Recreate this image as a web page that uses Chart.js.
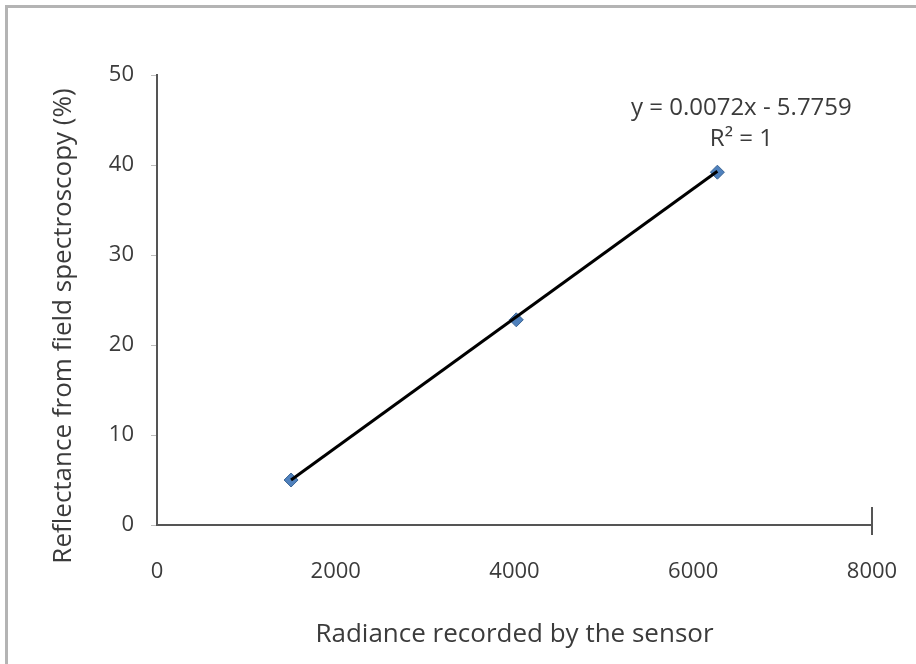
<!DOCTYPE html>
<html>
<head>
<meta charset="utf-8">
<script src="https://cdn.jsdelivr.net/npm/chart.js@4"></script>
<style>
    html, body { margin: 0; padding: 0; overflow: hidden; background: #fff; }
    #chart { display: block; }
</style>
</head>
<body>
<canvas id="chart" width="916" height="664"></canvas>
<script>
// measured points
const radiance = [1500, 4020, 6270];
const reflectance = [5.0, 22.8, 39.2];

// trend line end points as seen on the picture
const trendX = [1500, 6270];
const trendY = [5.0, 39.3];

const xTicks = [0, 2000, 4000, 6000, 8000];
const yTicks = [0, 10, 20, 30, 40, 50];

const xTitle = 'Radiance recorded by the sensor';
const yTitle = 'Reflectance from field spectroscopy (%)';
const equationLines = ['y = 0.0072x - 5.7759', 'R\u00B2 = 1'];

const textColor = '#3b3b3b';
const axisColor = '#555';
const fontName = '"Open Sans", sans-serif';

// grey frame on top and left side of the picture
const frame = {
    id: 'frame',
    beforeDraw(chart) {
        const ctx = chart.ctx;
        ctx.save();
        ctx.strokeStyle = '#b4b4b4';
        ctx.lineWidth = 3;
        ctx.beginPath();
        ctx.moveTo(6.5, chart.height);
        ctx.lineTo(6.5, 6.5);
        ctx.lineTo(chart.width, 6.5);
        ctx.stroke();
        ctx.restore();
    }
};

const extraText = {
    id: 'extraText',
    afterDatasetsDraw(chart) {
        const ctx = chart.ctx;
        const xs = chart.scales.x;

        // end tick of the x axis crosses the axis line
        const endX = Math.round(xs.getPixelForValue(xTicks[xTicks.length - 1]));
        ctx.save();
        ctx.strokeStyle = axisColor;
        ctx.lineWidth = 2;
        ctx.beginPath();
        ctx.moveTo(endX, xs.top - 18);
        ctx.lineTo(endX, xs.top + 10);
        ctx.stroke();

        const x = xs.getPixelForValue(radiance[radiance.length - 1]) + 24;
        const y = chart.scales.y.getPixelForValue(reflectance[reflectance.length - 1]);
        ctx.fillStyle = textColor;
        ctx.font = '24px ' + fontName;
        ctx.textAlign = 'center';
        ctx.textBaseline = 'middle';
        ctx.fillText(equationLines[0], x, y - 64);
        ctx.fillText(equationLines[1], x, y - 33);

        // y axis title, centred a bit lower than the axis
        ctx.translate(64, 326);
        ctx.rotate(-Math.PI / 2);
        ctx.font = '26px ' + fontName;
        ctx.fillText(yTitle, 0, 0);
        ctx.restore();
    }
};

const ctx = document.getElementById('chart').getContext('2d');

new Chart(ctx, {
    type: 'scatter',
    data: {
        datasets: [{
            label: 'Trend',
            type: 'line',
            data: trendX.map((x, i) => ({ x: x, y: trendY[i] })),
            borderColor: '#000',
            borderWidth: 3,
            pointRadius: 0,
            fill: false,
            order: 0
        }, {
            label: 'Reflectance',
            data: radiance.map((x, i) => ({ x: x, y: reflectance[i] })),
            pointStyle: 'rectRot',
            pointRadius: 7,
            backgroundColor: '#4F81BD',
            borderColor: '#3A6494',
            borderWidth: 1,
            order: 1
        }]
    },
    options: {
        responsive: false,
        animation: false,
        layout: { padding: { left: 50, top: 75, right: 44, bottom: 14 } },
        plugins: {
            legend: { display: false },
            tooltip: { enabled: false }
        },
        scales: {
            x: {
                type: 'linear',
                min: 0,
                max: 8000,
                afterBuildTicks: (scale) => { scale.ticks = xTicks.map(v => ({ value: v })); },
                afterFit: (scale) => { scale.height = 125; },
                border: { color: axisColor, width: 2 },
                grid: {
                    drawOnChartArea: false,
                    tickLength: 34,
                    color: 'rgba(0,0,0,0)'
                },
                ticks: {
                    padding: 0,
                    color: textColor,
                    font: { family: fontName, size: 22 },
                    callback: (v) => String(v)
                },
                title: {
                    display: true,
                    text: xTitle,
                    color: textColor,
                    padding: 0,
                    font: { family: fontName, size: 26 }
                }
            },
            y: {
                min: 0,
                max: 50,
                afterBuildTicks: (scale) => { scale.ticks = yTicks.map(v => ({ value: v })); },
                afterFit: (scale) => { scale.width = 107; },
                border: { color: axisColor, width: 2 },
                grid: {
                    drawOnChartArea: false,
                    tickLength: 6,
                    color: '#bdbdbd'
                },
                ticks: {
                    padding: 17,
                    color: textColor,
                    font: { family: fontName, size: 22 },
                    callback: (v) => String(v)
                }
            }
        }
    },
    plugins: [frame, extraText]
});
</script>
</body>
</html>
